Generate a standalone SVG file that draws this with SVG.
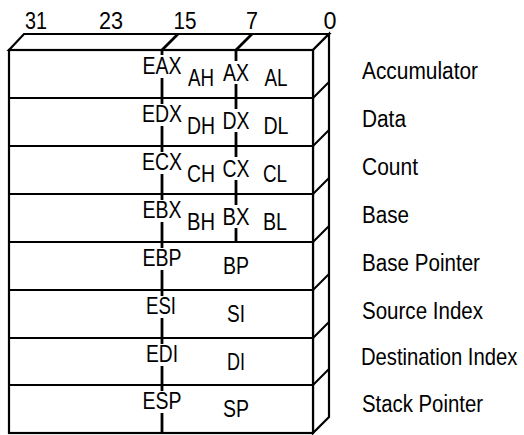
<svg xmlns="http://www.w3.org/2000/svg" width="524" height="435" viewBox="0 0 524 435">
<style>
text{font-family:"Liberation Sans",Arial,Helvetica,sans-serif;fill:#000}
.bit{font-size:23px;text-anchor:middle}
.reg{font-size:24px;text-anchor:middle}
.name{font-size:23px}
.edge{fill:#fff;stroke:#000;stroke-width:2.2;stroke-linejoin:miter}
.row{stroke:#000;stroke-width:2;fill:none}
.div{stroke:#000;stroke-width:2.8;fill:none}
</style>
<rect width="524" height="435" fill="#fff"/>
<g id="bit-numbers">
<text class="bit" x="36" y="29" textLength="22" lengthAdjust="spacingAndGlyphs">31</text>
<text class="bit" x="111" y="29" textLength="24" lengthAdjust="spacingAndGlyphs">23</text>
<text class="bit" x="185" y="29" textLength="23" lengthAdjust="spacingAndGlyphs">15</text>
<text class="bit" x="252" y="29" textLength="12" lengthAdjust="spacingAndGlyphs">7</text>
<text class="bit" x="330" y="29" textLength="13" lengthAdjust="spacingAndGlyphs">0</text>
</g>
<g id="block">
<polygon class="edge" points="9,50 24,34 329,34 313,50"/>
<polygon class="edge" points="313,50 329,34 329,417 313,433"/>
<rect class="edge" x="9" y="50" width="304" height="383"/>
<path class="row" d="M313,98 L329,82 M313,146 L329,130 M313,194 L329,178 M313,242 L329,226 M313,290 L329,274 M313,338 L329,322 M313,385 L329,369"/>
</g>
<g id="connectors">
<path class="div" d="M178,34 L162,50 M162,50 V55 M162,78 V104 M162,126 V152 M162,174 V200 M162,222 V248 M162,270 V296 M162,318 V344 M162,366 V391 M162,413 V433"/>
<path class="div" d="M252,34 L236,50 M236,50 V61 M236,84 V109 M236,132 V157 M236,180 V205 M236,228 V242"/>
</g>
<g id="row-eax">
<line class="row" x1="9" y1="98" x2="313" y2="98"/>
<text class="reg" x="162" y="74" textLength="39" lengthAdjust="spacingAndGlyphs">EAX</text>
<text class="reg" x="201" y="86" textLength="26" lengthAdjust="spacingAndGlyphs">AH</text>
<text class="reg" x="236" y="81" textLength="26" lengthAdjust="spacingAndGlyphs">AX</text>
<text class="reg" x="276" y="86" textLength="23" lengthAdjust="spacingAndGlyphs">AL</text>
<text class="name" x="362" y="79" textLength="116" lengthAdjust="spacingAndGlyphs">Accumulator</text>
</g>
<g id="row-edx">
<line class="row" x1="9" y1="146" x2="313" y2="146"/>
<text class="reg" x="162" y="122" textLength="40" lengthAdjust="spacingAndGlyphs">EDX</text>
<text class="reg" x="201" y="134" textLength="28" lengthAdjust="spacingAndGlyphs">DH</text>
<text class="reg" x="236" y="129" textLength="27" lengthAdjust="spacingAndGlyphs">DX</text>
<text class="reg" x="276" y="134" textLength="25" lengthAdjust="spacingAndGlyphs">DL</text>
<text class="name" x="362" y="127" textLength="44" lengthAdjust="spacingAndGlyphs">Data</text>
</g>
<g id="row-ecx">
<line class="row" x1="9" y1="194" x2="313" y2="194"/>
<text class="reg" x="162" y="170" textLength="40" lengthAdjust="spacingAndGlyphs">ECX</text>
<text class="reg" x="201" y="182" textLength="28" lengthAdjust="spacingAndGlyphs">CH</text>
<text class="reg" x="236" y="177" textLength="27" lengthAdjust="spacingAndGlyphs">CX</text>
<text class="reg" x="275" y="182" textLength="24" lengthAdjust="spacingAndGlyphs">CL</text>
<text class="name" x="362" y="175" textLength="56" lengthAdjust="spacingAndGlyphs">Count</text>
</g>
<g id="row-ebx">
<line class="row" x1="9" y1="242" x2="313" y2="242"/>
<text class="reg" x="162" y="218" textLength="39" lengthAdjust="spacingAndGlyphs">EBX</text>
<text class="reg" x="201" y="230" textLength="28" lengthAdjust="spacingAndGlyphs">BH</text>
<text class="reg" x="236" y="225" textLength="27" lengthAdjust="spacingAndGlyphs">BX</text>
<text class="reg" x="275" y="230" textLength="24" lengthAdjust="spacingAndGlyphs">BL</text>
<text class="name" x="362" y="223" textLength="47" lengthAdjust="spacingAndGlyphs">Base</text>
</g>
<g id="row-ebp">
<line class="row" x1="9" y1="290" x2="313" y2="290"/>
<text class="reg" x="162" y="266" textLength="39" lengthAdjust="spacingAndGlyphs">EBP</text>
<text class="reg" x="236" y="274" textLength="26" lengthAdjust="spacingAndGlyphs">BP</text>
<text class="name" x="362" y="271" textLength="118" lengthAdjust="spacingAndGlyphs">Base Pointer</text>
</g>
<g id="row-esi">
<line class="row" x1="9" y1="338" x2="313" y2="338"/>
<text class="reg" x="161" y="314" textLength="30" lengthAdjust="spacingAndGlyphs">ESI</text>
<text class="reg" x="236" y="322" textLength="18" lengthAdjust="spacingAndGlyphs">SI</text>
<text class="name" x="362" y="319" textLength="121" lengthAdjust="spacingAndGlyphs">Source Index</text>
</g>
<g id="row-edi">
<line class="row" x1="9" y1="385" x2="313" y2="385"/>
<text class="reg" x="162" y="362" textLength="32" lengthAdjust="spacingAndGlyphs">EDI</text>
<text class="reg" x="236" y="370" textLength="18" lengthAdjust="spacingAndGlyphs">DI</text>
<text class="name" transform="translate(361,365) scale(0.88,1)">Destination Index</text>
</g>
<g id="row-esp">
<text class="reg" x="162" y="409" textLength="39" lengthAdjust="spacingAndGlyphs">ESP</text>
<text class="reg" x="236" y="417" textLength="26" lengthAdjust="spacingAndGlyphs">SP</text>
<text class="name" x="362" y="412" textLength="121" lengthAdjust="spacingAndGlyphs">Stack Pointer</text>
</g>
</svg>
